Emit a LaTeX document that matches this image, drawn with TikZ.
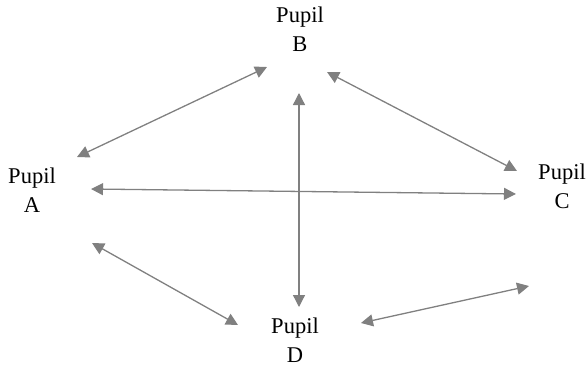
\documentclass[tikz,border=0pt]{standalone}
\usepackage{fontspec}
\setmainfont{Liberation Serif}
\usetikzlibrary{arrows.meta}

\begin{document}
\begin{tikzpicture}[x=1pt, y=-1pt,
    pupil/.style={align=center, font=\fontsize{22.5}{29}\selectfont, inner sep=0pt},
    link/.style={draw=black!50, line width=1.3pt,
      {Triangle[length=12pt, width=12pt]}-{Triangle[length=12pt, width=12pt]}}]
  \useasboundingbox (0,0) rectangle (587,367);
  % pupils
  \node[pupil] (B) at (300,29) {Pupil\\B};
  \node[pupil] (A) at (32,190) {Pupil\\A};
  \node[pupil] (C) at (562,186) {Pupil\\C};
  \node[pupil] (D) at (295,340) {Pupil\\D};
  % arrow ends
  \coordinate (ba) at (267,67);
  \coordinate (bc) at (327,72);
  \coordinate (bd) at (299,93);
  \coordinate (ab) at (77,157);
  \coordinate (ac) at (91,189);
  \coordinate (ad) at (92,243);
  \coordinate (cb) at (517,171);
  \coordinate (ca) at (516,194);
  \coordinate (cd) at (529,286);
  \coordinate (db) at (299,307);
  \coordinate (da) at (238,325);
  \coordinate (dc) at (361,323);
  % links
  \draw[link] (ba) -- (ab);
  \draw[link] (bc) -- (cb);
  \draw[link] (bd) -- (db);
  \draw[link] (ac) -- (ca);
  \draw[link] (ad) -- (da);
  \draw[link] (cd) -- (dc);
\end{tikzpicture}
\end{document}
